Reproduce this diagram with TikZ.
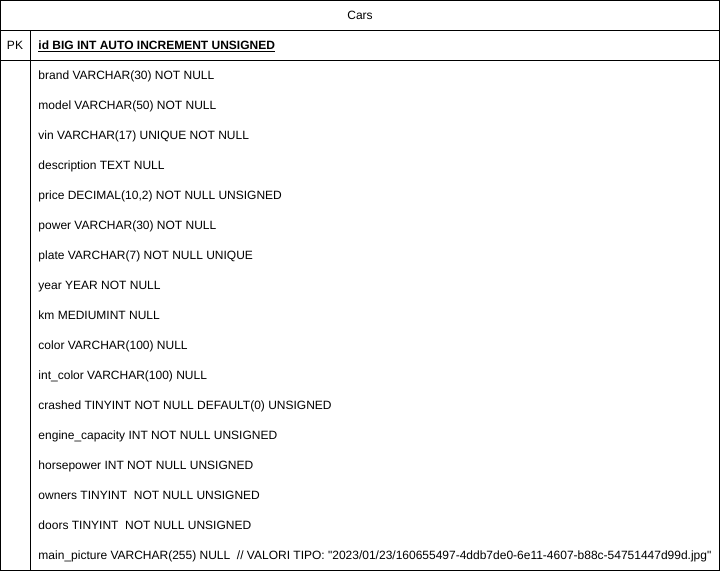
\documentclass[tikz,border=0pt]{standalone}
\usepackage{fontspec}
\setmainfont{Liberation Sans}[Ligatures=TeXOff]

\tikzset{every picture/.style={line width=0.75pt}}
\tikzset{
  fieldtext/.style={anchor=base west, inner sep=0pt, yshift=-3.2pt, font=\fontsize{9}{11}\selectfont},
  keytext/.style={anchor=base, inner sep=0pt, yshift=-3.2pt, font=\fontsize{9}{11}\selectfont}
}

\begin{document}
\begin{tikzpicture}[x=0.75pt,y=0.75pt,yscale=-1,xscale=1]
\useasboundingbox (0,0) rectangle (721,571);

% Table frame
\draw    (0.5,0.5) -- (719.5,0.5) -- (719.5,570) -- (0.5,570) -- cycle  ;
\draw    (0.5,30) -- (719.5,30) ;
\draw    (0.5,60) -- (719.5,60) ;
\draw    (30,30) -- (30,570) ;

% Title
\node[keytext] (title) at (360,15) {Cars};
% Key row
\node[keytext] (pk) at (15,45) {PK};
\node[fieldtext] (id) at (38,45) {\bfseries\underline{id BIG INT AUTO INCREMENT UNSIGNED}};

% Fields
\node[fieldtext] (brand) at (38,75) {brand VARCHAR(30) NOT NULL};
\node[fieldtext] (model) at (38,105) {model VARCHAR(50) NOT NULL};
\node[fieldtext] (vin) at (38,135) {vin VARCHAR(17) UNIQUE NOT NULL};
\node[fieldtext] (description) at (38,165) {description TEXT NULL};
\node[fieldtext] (price) at (38,195) {price DECIMAL(10,2) NOT NULL UNSIGNED};
\node[fieldtext] (power) at (38,225) {power VARCHAR(30) NOT NULL};
\node[fieldtext] (plate) at (38,255) {plate VARCHAR(7) NOT NULL UNIQUE};
\node[fieldtext] (year) at (38,285) {year YEAR NOT NULL};
\node[fieldtext] (km) at (38,315) {km MEDIUMINT NULL};
\node[fieldtext] (color) at (38,345) {color VARCHAR(100) NULL};
\node[fieldtext] (intcolor) at (38,375) {int\_color VARCHAR(100) NULL};
\node[fieldtext] (crashed) at (38,405) {crashed TINYINT NOT NULL DEFAULT(0) UNSIGNED};
\node[fieldtext] (engine) at (38,435) {engine\_capacity INT NOT NULL UNSIGNED};
\node[fieldtext] (horsepower) at (38,465) {horsepower INT NOT NULL UNSIGNED};
\node[fieldtext] (owners) at (38,495) {owners TINYINT\ \ NOT NULL UNSIGNED};
\node[fieldtext] (doors) at (38,525) {doors TINYINT\ \ NOT NULL UNSIGNED};
\node[fieldtext] (mainpicture) at (38,555) {main\_picture VARCHAR(255) NULL\ \ // VALORI TIPO: "2023/01/23/160655497-4ddb7de0-6e11-4607-b88c-54751447d99d.jpg"};

\end{tikzpicture}
\end{document}
